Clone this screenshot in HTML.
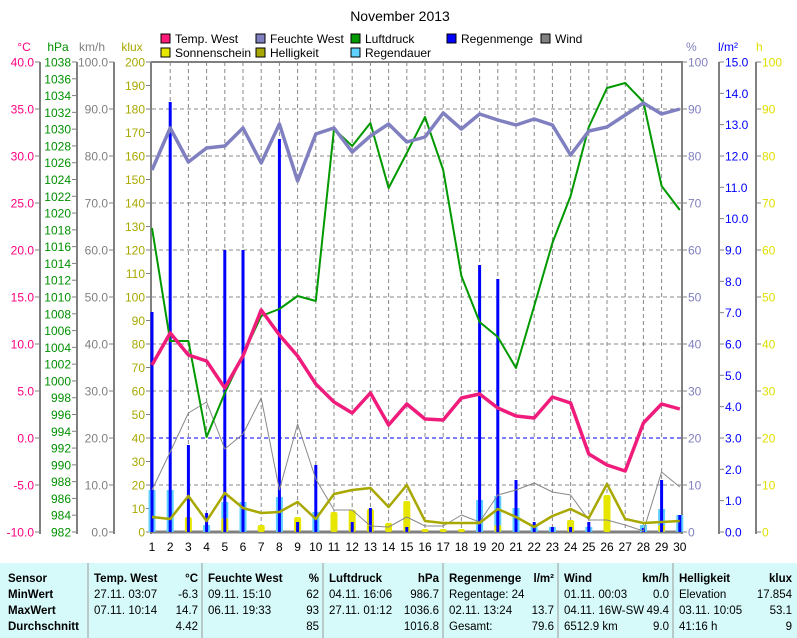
<!DOCTYPE html>
<html><head><meta charset="utf-8"><style>
body{margin:0;background:#fff;width:797px;height:638px;overflow:hidden;font-family:"Liberation Sans",sans-serif}
svg{position:absolute;left:0;top:0}
</style></head><body>
<svg id="s" width="797" height="638" xmlns="http://www.w3.org/2000/svg" font-family="Liberation Sans, sans-serif"></svg>
<script>
const s=document.getElementById('s');let h='';
const X=d=>152+(d-1)*18.2;
const T=62,B=532;
h+=`<rect x="0" y="563" width="797" height="75" fill="#d6f9f9"/>`;
h+=`<text x="400" y="21" font-size="14" text-anchor="middle">November 2013</text>`;
for(let i=0;i<10;i++){const y=T+i*47;h+=`<line x1="152" x2="681" y1="${y}" y2="${y}" stroke="#888" stroke-dasharray="4,3"/>`;}
for(let d=2;d<=29;d++)h+=`<line x1="${X(d)}" x2="${X(d)}" y1="${T}" y2="${B}" stroke="#888" stroke-dasharray="4,3"/>`;
h+=`<line x1="152" x2="681" y1="438" y2="438" stroke="#0000ff" stroke-dasharray="4,3"/>`;
function axis(x,vals,color){h+=`<line x1="${x}" x2="${x}" y1="${T}" y2="${B+2}" stroke="#808080" stroke-width="2"/>`;
 vals.forEach(([v,y])=>{h+=`<line x1="${x-5}" x2="${x}" y1="${y}" y2="${y}" stroke="#808080"/><text x="${x-6}" y="${y+4.5}" font-size="12" fill="${color}" text-anchor="end">${v}</text>`});}
let a=[];for(let i=0;i<=10;i++)a.push([(40-5*i).toFixed(1),T+i*47]);axis(40,a,'#ff0080');
a=[];for(let i=0;i<=28;i++)a.push([1038-2*i,T+i*470/28]);axis(77,a,'#009000');
a=[];for(let i=0;i<=10;i++)a.push([(100-10*i).toFixed(1),T+i*47]);axis(114,a,'#808080');
a=[];for(let i=0;i<=20;i++)a.push([200-10*i,T+i*23.5]);axis(151,a,'#a8a800');
h+=`<text x="24" y="51" font-size="12" fill="#ff0080" text-anchor="middle">°C</text><text x="58" y="51" font-size="12" fill="#009000" text-anchor="middle">hPa</text><text x="92" y="51" font-size="12" fill="#808080" text-anchor="middle">km/h</text><text x="132" y="51" font-size="12" fill="#a8a800" text-anchor="middle">klux</text>`;
function raxis(x,vals,color){h+=`<line x1="${x}" x2="${x}" y1="${T}" y2="${B+2}" stroke="#808080" stroke-width="2"/>`;
 vals.forEach(([v,y])=>{h+=`<line x1="${x}" x2="${x+5}" y1="${y}" y2="${y}" stroke="#808080"/><text x="${x+6}" y="${y+4.5}" font-size="12" fill="${color}">${v}</text>`});}
a=[];for(let i=0;i<=10;i++)a.push([100-10*i,T+i*47]);raxis(682,a,'#8080c0');
a=[];for(let i=0;i<=15;i++)a.push([(15-i).toFixed(1),T+i*470/15]);raxis(719,a,'#0000ff');
a=[];for(let i=0;i<=10;i++)a.push([100-10*i,T+i*47]);raxis(756,a,'#e0e000');
h+=`<text x="686" y="51" font-size="12" fill="#8080c0">%</text><text x="718" y="51" font-size="12" fill="#0000ff">l/m²</text><text x="756" y="51" font-size="12" fill="#e0e000">h</text>`;
h+=`<line x1="151" x2="683" y1="${B}" y2="${B}" stroke="#808080" stroke-width="3"/><line x1="151" x2="683" y1="${T}" y2="${T}" stroke="#808080" stroke-width="2"/>`;
for(let d=1;d<=30;d++)h+=`<text x="${X(d)}" y="551" font-size="12" text-anchor="middle">${d}</text>`;
const rd={1:490,2:490,4:525,5:502,6:502,8:497,10:512,19:500,20:496,21:508,22:525,23:527,25:527,28:525,29:509,30:515};
for(const d in rd)h+=`<rect x="${X(+d)-3.5}" y="${rd[d]}" width="7" height="${B-rd[d]}" fill="#60d0ff"/>`;
const sun={3:517,5:518,7:525,9:517,11:512,12:510,13:509,14:523,15:501,16:529,17:529,18:529,20:525,24:520,26:495,29:525};
for(const d in sun)h+=`<rect x="${X(+d)-3.5}" y="${sun[d]}" width="7" height="${B-sun[d]}" rx="2" fill="#e6e600"/>`;
const rain={1:312,2:102,3:445,4:513,5:250,6:250,8:139,9:522,10:465,12:522,13:508,15:527,19:265,20:279,21:480,22:522,23:527,24:527,25:522,28:528,29:480,30:515};
for(const d in rain)h+=`<rect x="${X(+d)-1.5}" y="${rain[d]}" width="3" height="${B-rain[d]}" fill="#0000ff"/>`;
function line(ys,c,w){h+=`<polyline fill="none" stroke="${c}" stroke-width="${w}" stroke-linejoin="round" points="${ys.map((y,i)=>X(i+1)+','+y).join(' ')}"/>`;}
line([490,452,413,402,449,434,398,490,424,479,510,510,526,527,517,526,526,515,522,495,490,483,492,495,520,520,525,531,472,487],'#888',1);
line([517,519,496,521,493,508,513,512,502,519,494,490,488,507,485,521,523,523,523,509,517,527,516,509,518,484,519,523,522,521],'#a8a800',2.5);
line([228,341,341,437,393,355,316,309,296,301,129,146,123,188,153,117,170,276,322,337,368,306,243,196,127,88,83,102,186,210],'#009900',2);
line([170,128,162,148,146,128,163,124,181,134,128,152,136,124,142,137,113,129,114,120,125,119,125,155,131,127,115,103,114,109],'#8080c0',3.5);
line([365,333,355,361,388,356,310,335,356,384,402,413,393,425,404,419,420,398,394,408,416,418,397,403,454,465,471,423,404,409],'#f01c7c',3.5);
const lg=[[161,'#ff1a7a','Temp. West'],[256,'#8080c0','Feuchte West'],[351,'#009900','Luftdruck'],[447,'#0000ff','Regenmenge'],[541,'#808080','Wind']];
const lg2=[[161,'#e6e600','Sonnenschein'],[256,'#a8a800','Helligkeit'],[351,'#60d0ff','Regendauer']];
function leg(arr,y){arr.forEach(([x,c,t])=>{h+=`<rect x="${x}" y="${y}" width="9" height="9" fill="${c}" stroke="#000"/><text x="${x+14}" y="${y+9}" font-size="12">${t}</text>`});}
leg(lg,34);leg(lg2,48);
[88,202,323,443,558,673].forEach(x=>h+=`<line x1="${x}" x2="${x}" y1="563" y2="638" stroke="#999"/>`);
const rows=[582,598,614,630];
function tx(x,y,t,anc,b){h+=`<text x="${x}" y="${y}" font-size="11.5" ${b?'font-weight="bold"':''} ${anc?'text-anchor="end"':''}>${t}</text>`;}
['Sensor','MinWert','MaxWert','Durchschnitt'].forEach((t,i)=>tx(8,rows[i],t,0,1));
const cols=[[94,198,'Temp. West','°C',[['27.11.  03:07','-6.3'],['07.11.  10:14','14.7'],['','4.42']]],
[208,319,'Feuchte West','%',[['09.11.  15:10','62'],['06.11.  19:33','93'],['','85']]],
[329,439,'Luftdruck','hPa',[['04.11.  16:06','986.7'],['27.11.  01:12','1036.6'],['','1016.8']]],
[449,554,'Regenmenge','l/m²',[['Regentage: 24',''],['02.11.  13:24','13.7'],['Gesamt:','79.6']]],
[564,669,'Wind','km/h',[['01.11.  00:03','0.0'],['04.11.  16W-SW','49.4'],['6512.9 km','9.0']]],
[679,792,'Helligkeit','klux',[['Elevation','17.854'],['03.11.  10:05','53.1'],['41:16 h','9']]]];
cols.forEach(([l,r,n,u,v])=>{tx(l,rows[0],n,0,1);tx(r,rows[0],u,1,1);v.forEach(([a,b],i)=>{tx(l,rows[i+1],a);tx(r,rows[i+1],b,1);});});
s.innerHTML=h;
</script>
</body></html>
